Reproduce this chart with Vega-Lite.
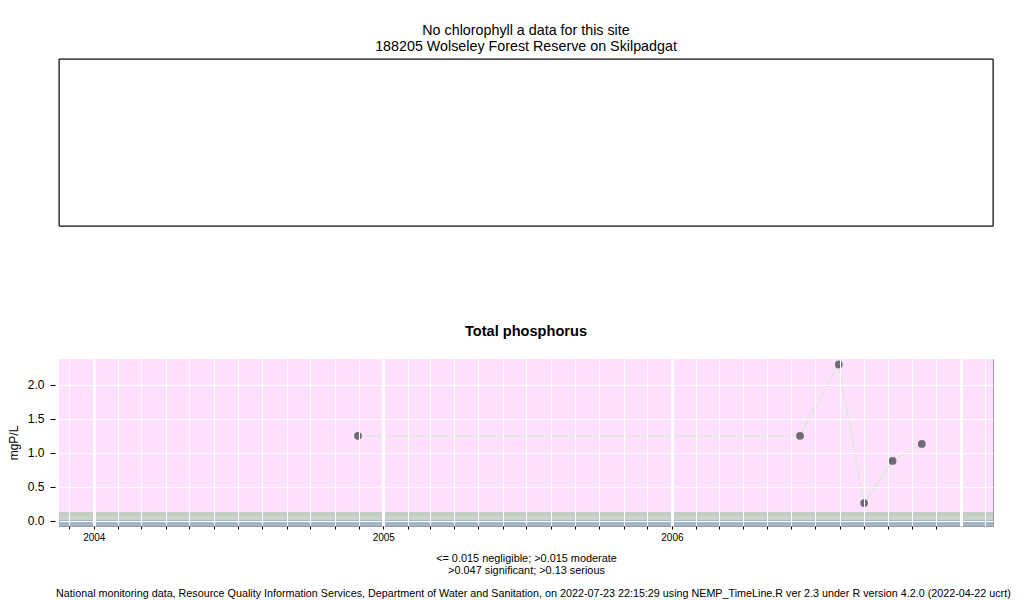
{
  "$schema": "https://vega.github.io/schema/vega-lite/v6.json",
  "background": "white",
  "padding": {"left": 6, "top": 23, "right": 0, "bottom": 0},
  "config": {
    "font": "Liberation Sans",
    "view": {"stroke": "#999999", "strokeWidth": 1},
    "title": {"color": "black"}
  },
  "title": {
    "text": "National monitoring data, Resource Quality Information Services, Department of Water and Sanitation, on 2022-07-23 22:15:29 using NEMP_TimeLine.R ver 2.3 under R version 4.2.0 (2022-04-22 ucrt)",
    "orient": "bottom",
    "anchor": "middle",
    "fontSize": 10.75,
    "fontWeight": "normal",
    "offset": 13,
    "dx": 33
  },
  "spacing": 96,
  "vconcat": [
    {
      "width": 934,
      "height": 167,
      "title": {
        "text": ["No chlorophyll a data for this site", "188205 Wolseley Forest Reserve on Skilpadgat"],
        "fontSize": 14.3,
        "fontWeight": "normal",
        "lineHeight": 16,
        "offset": 4
      },
      "data": {"values": [{"x0": 0, "x1": 1, "y0": 0, "y1": 1}]},
      "mark": {"type": "rect", "filled": false, "stroke": "black", "strokeWidth": 1},
      "encoding": {
        "x": {"field": "x0", "type": "quantitative", "scale": {"domain": [0, 1], "nice": false, "zero": false}, "axis": null},
        "x2": {"field": "x1"},
        "y": {"field": "y0", "type": "quantitative", "scale": {"domain": [0, 1], "nice": false, "zero": false}, "axis": null},
        "y2": {"field": "y1"}
      }
    },
    {
      "width": 934,
      "height": 167,
      "title": {
        "text": "Total phosphorus",
        "fontSize": 14.6,
        "fontWeight": "bold",
        "offset": 20
      },
      "encoding": {
        "y": {
          "field": "value",
          "type": "quantitative",
          "scale": {"domain": [-0.078, 2.38], "nice": false, "zero": false},
          "axis": {
            "title": "mgP/L",
            "titleFontSize": 12,
            "titleFontWeight": "normal",
            "titleColor": "black",
            "titlePadding": 7,
            "values": [0, 0.5, 1, 1.5, 2],
            "format": ".1f",
            "labelFontSize": 12,
            "labelColor": "black",
            "labelPadding": 6,
            "tickColor": "black",
            "tickSize": 5,
            "offset": 4,
            "domain": false,
            "grid": true,
            "gridColor": "white",
            "gridOpacity": 1,
            "gridWidth": 1,
            "zindex": 1
          }
        }
      },
      "layer": [
        {
          "data": {"values": [
            {"value": -1, "upper": 0.015, "class": "negligible"},
            {"value": 0.015, "upper": 0.047, "class": "moderate"},
            {"value": 0.047, "upper": 0.13, "class": "significant"},
            {"value": 0.13, "upper": 3, "class": "serious"}
          ]},
          "mark": {"type": "rect", "clip": true},
          "encoding": {
            "y2": {"field": "upper"},
            "color": {
              "field": "class",
              "type": "nominal",
              "scale": {"domain": ["negligible", "moderate", "significant", "serious"], "range": ["#A3B4CB", "#C2CDC2", "#C3CEC3", "#FFE0FF"]},
              "legend": null
            }
          }
        },
        {
          "data": {"values": [
            {"date": "2004-11-30", "value": 1.25},
            {"date": "2006-06-12", "value": 1.25},
            {"date": "2006-07-31", "value": 2.3},
            {"date": "2006-09-01", "value": 0.26},
            {"date": "2006-10-07", "value": 0.88},
            {"date": "2006-11-13", "value": 1.13}
          ]},
          "encoding": {
            "x": {
              "field": "date",
              "type": "temporal",
              "scale": {"domain": ["2003-11-18", "2007-02-11"], "nice": false},
              "axis": {
                "title": ["<= 0.015 negligible; >0.015 moderate", ">0.047 significant; >0.13 serious"],
                "titleFontSize": 10.9,
                "titleFontWeight": "normal",
                "titleColor": "black",
                "titleLineHeight": 12.5,
                "titlePadding": 10,
                "tickCount": {"interval": "month", "step": 1},
                "labelExpr": "(month(datum.value) == 0 && year(datum.value) < 2007) ? timeFormat(datum.value, '%Y') : ''",
                "labelFontSize": 10,
                "labelColor": "black",
                "labelPadding": 3,
                "labelOverlap": false,
                "labelFlush": false,
                "tickSize": 3,
                "tickColor": "black",
                "tickOpacity": {"condition": {"test": "year(datum.value) >= 2007", "value": 0}, "value": 1},
                "domain": false,
                "grid": true,
                "gridColor": "white",
                "gridOpacity": 1,
                "gridWidth": {"condition": {"test": "month(datum.value) == 0", "value": 3}, "value": 1},
                "zindex": 1
              }
            }
          },
          "layer": [
            {"mark": {"type": "line", "color": "#E6E6E6", "strokeWidth": 2}},
            {"mark": {"type": "point", "filled": true, "shape": "circle", "color": "#6F6B72", "opacity": 1, "size": 60}}
          ]
        }
      ]
    }
  ]
}
